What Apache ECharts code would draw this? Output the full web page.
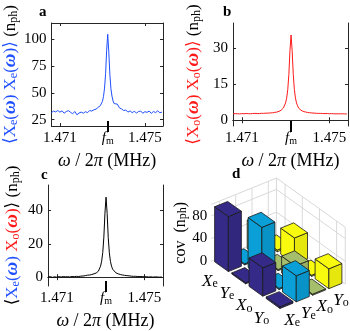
<!DOCTYPE html>
<html>
<head>
<meta charset="utf-8">
<script src="https://cdn.jsdelivr.net/npm/echarts@6/dist/echarts.min.js"></script>
<style>
  html, body { margin: 0; padding: 0; background: #fff; }
  #chart { width: 350px; height: 331px; }
</style>
</head>
<body>
<div id="chart"></div>
<script>
// frequency samples (MHz), denser around the mechanical resonance
const freq = [1.4706, 1.4707, 1.4708, 1.4709, 1.4710, 1.4711, 1.4712, 1.4713, 1.4714, 1.4715,
  1.4716, 1.4717, 1.4718, 1.4719, 1.4720, 1.4721, 1.4722, 1.4723, 1.4724, 1.4725,
  1.4726, 1.4727, 1.4728, 1.4729,
  1.47295, 1.47300, 1.47305, 1.47310, 1.47315, 1.47320, 1.47325, 1.47330, 1.47335, 1.47340,
  1.47345, 1.47350, 1.47355,
  1.4736, 1.4737, 1.4738, 1.4739, 1.4740, 1.4741, 1.4742, 1.4743, 1.4744, 1.4745,
  1.4746, 1.4747, 1.4748, 1.4749, 1.4750, 1.4751, 1.4752, 1.4753, 1.4754, 1.4755,
  1.4756, 1.4757, 1.4758];
const fm = 1.47325;

// spectra (n_ph)
const specXeXe = [31.5, 33.0, 32.2, 33.5, 32.0, 33.2, 31.0, 32.5, 33.4, 31.8,
  30.5, 32.6, 29.5, 31.2, 32.0, 31.0, 32.4, 31.5, 33.5, 33.0,
  34.2, 34.8, 36.5, 38.0,
  39.5, 42.0, 46.5, 54.5, 68.0, 90.0, 105.0, 88.5, 67.5, 54.0, 47.0, 42.5, 40.0,
  38.5, 39.5, 36.0, 35.0, 33.5, 34.0, 32.0, 33.2, 31.5, 32.8,
  31.2, 32.5, 33.0, 31.0, 32.4, 31.8, 33.0, 30.8, 32.6, 31.5,
  33.2, 31.4, 32.0];
const specXoXo = [2.7, 2.75, 2.7, 2.65, 2.75, 2.7, 2.8, 2.75, 2.7, 2.8,
  2.85, 2.8, 2.75, 2.9, 2.85, 2.95, 2.95, 3.05, 3.1, 3.25,
  3.4, 3.7, 4.2, 5.1,
  5.9, 7.2, 9.2, 12.8, 19.0, 28.9, 35.5, 29.0, 19.2, 12.9, 9.3, 7.2, 6.0,
  5.0, 4.2, 3.7, 3.45, 3.25, 3.1, 3.05, 2.95, 2.9, 2.85,
  2.85, 2.8, 2.75, 2.8, 2.7, 2.75, 2.7, 2.65, 2.7, 2.65,
  2.7, 2.65, 2.6];
const specXeXo = [0.1, 0.3, -0.1, 0.2, 0.0, 0.3, 0.1, 0.4, 0.2, 0.3,
  0.1, 0.4, 0.3, 0.5, 0.4, 0.6, 0.7, 0.9, 1.2, 1.3,
  1.6, 2.0, 2.5, 3.6,
  4.8, 6.6, 9.6, 14.8, 24.0, 38.4, 48.0, 38.2, 23.8, 14.6, 9.5, 6.6, 4.8,
  3.6, 2.6, 2.0, 1.6, 1.3, 1.1, 0.9, 0.8, 0.6, 0.5,
  0.5, 0.4, 0.3, 0.4, 0.2, 0.3, 0.1, 0.2, 0.0, 0.2,
  0.1, 0.0, 0.1];

const xTicks = [1.471, 1.475];
const xLabels = [1.471, fm, 1.475];
const yTicksA = [25, 50, 75, 100];
const yTicksB = [0, 15, 30];
const yTicksC = [0, 20, 40];
const zTicks = [0, 40, 80];

// covariance matrix, rows/cols: Xe, Ye, Xo, Yo
const quadNames = ['X', 'Y', 'X', 'Y'];
const quadSubs = ['e', 'e', 'o', 'o'];
const covRowXe = [97, 2, 50, 3];
const covRowYe = [2, 88, 2, 46];
const covRowXo = [50, 2, 30, 2];
const covRowYo = [3, 46, 2, 35];
const covRows = [covRowXe, covRowYe, covRowXo, covRowYo];

const serif = '"Liberation Serif", "DejaVu Serif", serif';
const axisCol = '#262626';
const blue = '#1f50ff';
const red = '#ff1a1a';
const barColors = ['#352a87', '#0a9fd6', '#a5be6b', '#f9fb0e'];

// projection of the 3d floor: pixel step per row, and drop per column
const rowStep = [17.2, 12.3];
const colDrop = -6.6;
const zMax = 100;

const chart = echarts.init(document.getElementById('chart'));

// rich styles: k = black, b = blue, r = red; suffix i = italic, s = subscript, w = omega
function makeRich(size, subSize, lh, subLh, wSize) {
  const out = {};
  [['k', '#000'], ['b', blue], ['r', red]].forEach(([key, col]) => {
    out[key] = { fontFamily: serif, fontSize: size, lineHeight: lh, color: col };
    out[key + 'i'] = { fontFamily: serif, fontSize: size, lineHeight: lh, color: col, fontStyle: 'italic' };
    out[key + 'w'] = { fontFamily: serif, fontSize: wSize, lineHeight: lh, color: col, fontStyle: 'italic', fontWeight: 'bold' };
    out[key + 's'] = { fontFamily: serif, fontSize: subSize, lineHeight: subLh, verticalAlign: 'bottom', color: col };
  });
  return out;
}
const yNameRich = makeRich(17, 12, 19, 8, 19);
const xNameRich = makeRich(18, 12, 18, 8, 18);
const zNameRich = makeRich(16, 12, 16, 7, 16);

function quad(c, letter, sub) {
  return '{' + c + '|' + letter + '}{' + c + 's|' + sub + '}{' + c + '|(}{' + c + 'w|ω}{' + c + '|)}';
}
const nameA = '{b|⟨}' + quad('b', 'X', 'e') + '{b| }' + quad('b', 'X', 'e') + '{b|⟩}{k| (n}{ks|ph}{k|)}';
const nameB = '{r|⟨}' + quad('r', 'X', 'o') + '{r| }' + quad('r', 'X', 'o') + '{r|⟩}{k| (n}{ks|ph}{k|)}';
const nameC = '{k|⟨}' + quad('b', 'X', 'e') + '{k| }' + quad('r', 'X', 'o') + '{k|⟩}{k| (n}{ks|ph}{k|)}';
const xName = '{ki|ω}{k| / 2}{ki|π}{k| (MHz)}';

const tickStyle = { color: axisCol, width: 1 };
const labelStyle = { fontFamily: serif, fontSize: 15, color: '#000' };

const grids = [
  { left: 48, top: 23, width: 115, height: 103 },
  { left: 233, top: 23, width: 115, height: 103 },
  { left: 48, top: 185, width: 115, height: 103 },
  { left: 211.25, top: 204.45, width: 65.2, height: 56.7 }
];

const xAxes = [];
const yAxes = [];
const panels = [
  { yMin: 19, yMax: 115.5, ticks: yTicksA, name: nameA, gap: 26, data: specXeXe, color: blue },
  { yMin: -2.4, yMax: 40.5, ticks: yTicksB, name: nameB, gap: 30, data: specXoXo, color: red },
  { yMin: -5.3, yMax: 55.3, ticks: yTicksC, name: nameC, gap: 26, data: specXeXo, color: '#000' }
];

panels.forEach((p, k) => {
  const base = { type: 'value', gridIndex: k, min: 1.4706, max: 1.47585, splitLine: { show: false } };
  xAxes.push(Object.assign({}, base, {
    position: 'bottom',
    axisLine: { show: true, lineStyle: tickStyle },
    axisTick: { show: true, inside: true, length: 3, customValues: xTicks, lineStyle: tickStyle },
    axisLabel: Object.assign({}, labelStyle, {
      customValues: xLabels, margin: 5,
      formatter: v => Math.abs(v - fm) < 1e-7 ? '{fi|f}{fs|m}' : v.toFixed(3),
      rich: {
        fi: { fontFamily: serif, fontSize: 15, fontStyle: 'italic', lineHeight: 15 },
        fs: { fontFamily: serif, fontSize: 10, lineHeight: 6, verticalAlign: 'bottom' }
      }
    }),
    name: xName, nameLocation: 'middle', nameGap: 26,
    nameTextStyle: { rich: xNameRich }
  }));
  xAxes.push(Object.assign({}, base, {
    position: 'top',
    axisLine: { show: true, lineStyle: tickStyle },
    axisTick: { show: true, inside: true, length: 3, customValues: xTicks, lineStyle: tickStyle },
    axisLabel: { show: false }
  }));
  // thick marker for f_m crossing the bottom axis
  xAxes.push(Object.assign({}, base, {
    position: 'bottom', offset: -5,
    axisLine: { show: false },
    axisTick: { show: true, inside: false, length: 11, customValues: [fm], lineStyle: { color: '#000', width: 2 } },
    axisLabel: { show: false }
  }));

  const ybase = { type: 'value', gridIndex: k, min: p.yMin, max: p.yMax, splitLine: { show: false } };
  yAxes.push(Object.assign({}, ybase, {
    position: 'left',
    axisLine: { show: true, lineStyle: tickStyle },
    axisTick: { show: true, inside: true, length: 3, customValues: p.ticks, lineStyle: tickStyle },
    axisLabel: Object.assign({}, labelStyle, { customValues: p.ticks, margin: 5 }),
    name: p.name, nameLocation: 'middle', nameRotate: 90, nameGap: p.gap,
    nameTextStyle: { rich: yNameRich }
  }));
  yAxes.push(Object.assign({}, ybase, {
    position: 'right',
    axisLine: { show: true, lineStyle: tickStyle },
    axisTick: { show: true, inside: true, length: 3, customValues: p.ticks, lineStyle: tickStyle },
    axisLabel: { show: false }
  }));
});

// axes of panel d: x = column index along the back wall, y = covariance height
xAxes.push({ type: 'value', gridIndex: 3, min: -0.5, max: 3.5, show: false });
yAxes.push({
  type: 'value', gridIndex: 3, min: 0, max: zMax, splitLine: { show: false },
  axisLine: { show: true, lineStyle: { color: '#9a9a9a', width: 1 } },
  axisTick: { show: true, inside: false, length: 3, customValues: zTicks, lineStyle: tickStyle },
  axisLabel: Object.assign({}, labelStyle, { customValues: zTicks, margin: 4 }),
  name: '{k|cov  (n}{ks|ph}{k|)}', nameLocation: 'middle', nameRotate: 90, nameGap: 19,
  nameTextStyle: { rich: zNameRich }
});

function project(api, r, c, z) {
  const p = api.coord([c, z]);
  return [p[0] + (r + 0.5) * rowStep[0], p[1] + (c + 0.5) * colDrop + (r + 0.5) * rowStep[1]];
}

function renderWalls(params, api) {
  const kids = [];
  const gl = { stroke: '#d9d9d9', lineWidth: 1 };
  const line = (a, b) => kids.push({ type: 'line', shape: { x1: a[0], y1: a[1], x2: b[0], y2: b[1] }, style: gl });
  zTicks.concat([zMax]).forEach(z => {
    line(project(api, -0.5, -0.5, z), project(api, -0.5, 3.5, z));
    line(project(api, -0.5, 3.5, z), project(api, 3.5, 3.5, z));
  });
  [0, 1, 2, 3, 3.5].forEach(i => {
    line(project(api, -0.5, i, 0), project(api, -0.5, i, zMax));
  });
  [0, 1, 2, 3, 3.5].forEach(i => {
    line(project(api, i, 3.5, 0), project(api, i, 3.5, zMax));
  });
  return { type: 'group', children: kids };
}

const bars = [];
covRows.forEach((row, r) => row.forEach((h, c) => bars.push([r, c, h])));
bars.sort((a, b) => (a[0] - a[1]) - (b[0] - b[1]));

function shade(hex, f) {
  const n = parseInt(hex.slice(1), 16);
  const ch = s => Math.round(((n >> s) & 255) * f);
  return 'rgb(' + ch(16) + ',' + ch(8) + ',' + ch(0) + ')';
}

function renderBar(params, api) {
  const r = api.value(0), c = api.value(1), h = api.value(2);
  const w = 0.4;
  const P = (dr, dc, z) => project(api, r + dr, c + dc, z);
  const col = barColors[c];
  const edge = { stroke: '#1a1a1a', lineWidth: 0.8, lineJoin: 'round' };
  const o = params.dataIndex * 3;
  return {
    type: 'group',
    children: [
      { type: 'polygon', z2: o, shape: { points: [P(-w, -w, 0), P(w, -w, 0), P(w, -w, h), P(-w, -w, h)] },
        style: Object.assign({ fill: col }, edge) },
      { type: 'polygon', z2: o + 1, shape: { points: [P(w, -w, 0), P(w, w, 0), P(w, w, h), P(w, -w, h)] },
        style: Object.assign({ fill: shade(col, 0.92) }, edge) },
      { type: 'polygon', z2: o + 2, shape: { points: [P(-w, -w, h), P(w, -w, h), P(w, w, h), P(-w, w, h)] },
        style: Object.assign({ fill: col }, edge) }
    ]
  };
}

const labelRich = {
  i: { fontFamily: serif, fontSize: 17, fontStyle: 'italic', lineHeight: 17, color: '#000' },
  s: { fontFamily: serif, fontSize: 12, lineHeight: 7, verticalAlign: 'bottom', color: '#000' }
};

function renderLabels(params, api) {
  const i = api.value(0);
  const txt = '{i|' + quadNames[i] + '}{s|' + quadSubs[i] + '}';
  const a = project(api, i, -0.5, 0);
  const b = project(api, 3.5, i, 0);
  const t = (p, dx, dy) => ({
    type: 'text', x: p[0] + dx, y: p[1] + dy,
    style: { text: txt, rich: labelRich, align: 'center', verticalAlign: 'middle' }
  });
  return { type: 'group', children: [t(a, -10, 14), t(b, 4, 13)] };
}

const series = panels.map((p, k) => ({
  type: 'line', xAxisIndex: 3 * k, yAxisIndex: 2 * k,
  data: freq.map((f, i) => [f, p.data[i]]),
  showSymbol: false, silent: true,
  lineStyle: { color: p.color, width: 1 }
}));
series.push({
  type: 'custom', xAxisIndex: 9, yAxisIndex: 6, silent: true, z: 1,
  data: [[0, 0]], renderItem: renderWalls
});
series.push({
  type: 'custom', xAxisIndex: 9, yAxisIndex: 6, silent: true, z: 2, clip: false,
  encode: { x: 1, y: 2 },
  data: bars, renderItem: renderBar
});
series.push({
  type: 'custom', xAxisIndex: 9, yAxisIndex: 6, silent: true, z: 3, clip: false,
  data: [[0, 0], [1, 0], [2, 0], [3, 0]], renderItem: renderLabels
});

const letter = (t, x, y) => ({
  text: t, left: x, top: y, padding: 0,
  textStyle: { fontFamily: serif, fontWeight: 'bold', fontSize: 15, color: '#000' }
});

chart.setOption({
  animation: false,
  backgroundColor: '#fff',
  title: [letter('a', 39, 5), letter('b', 223, 5), letter('c', 41, 168), letter('d', 232, 167)],
  grid: grids,
  xAxis: xAxes,
  yAxis: yAxes,
  series: series
});

window.addEventListener('resize', () => {
  chart.resize();
});
</script>
</body>
</html>
